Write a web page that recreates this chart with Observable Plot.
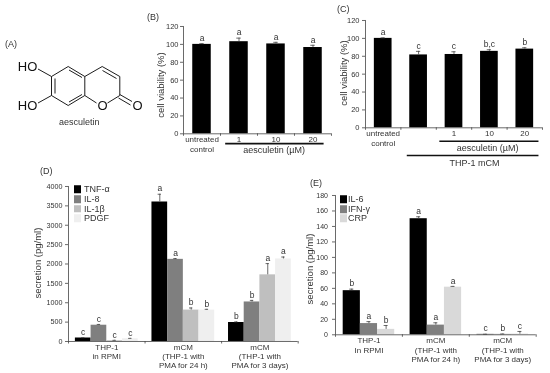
<!DOCTYPE html>
<html>
<head>
<meta charset="utf-8">
<script src="https://cdn.jsdelivr.net/npm/d3@7"></script>
<script src="https://cdn.jsdelivr.net/npm/@observablehq/plot@0.6"></script>
<style>
html,body{margin:0;padding:0;background:#fff}
#fig{position:relative;width:550px;height:373px;overflow:hidden;font-family:"Liberation Sans",Arial,sans-serif;color:#333;filter:blur(0.3px)}
#fig svg{position:absolute;background:transparent;overflow:hidden}
.t{position:absolute;font-size:9px;line-height:10px;white-space:nowrap;transform:translateY(-50%)}
.s{position:absolute;width:7px;height:7.5px;transform:translateY(-50%)}
</style>
</head>
<body>
<div id="fig"></div>
<script>
// ---- Panel B
const bLabels = ["untreated\ncontrol", "1", "10", "20"];
const bValues = [100, 103, 100.5, 96.5];
const bErrors = [0.8, 4, 1.8, 2.5];
const bLetters = ["a", "a", "a", "a"];
// ---- Panel C
const cLabels = ["untreated\ncontrol", "", "1", "10", "20"];
const cValues = [100, 81.5, 82, 85.5, 88];
const cErrors = [0.6, 4, 3, 1.8, 1.5];
const cLetters = ["a", "c", "c", "b,c", "b"];
// ---- Panel D
const dGroups = ["THP-1\nin RPMI", "mCM\n(THP-1 with\nPMA for 24 h)", "mCM\n(THP-1 with\nPMA for 3 days)"];
const dSeries = ["TNF-α", "IL-8", "IL-1β", "PDGF"];
const dColors = ["#000000", "#7f7f7f", "#bfbfbf", "#efefef"];
const dValues = [[90, 3600, 490], [420, 2120, 1020], [20, 810, 1720], [70, 810, 2130]];
const dErrors = [[8, 200, 15], [20, 20, 40], [10, 55, 290], [10, 20, 50]];
const dLetters = [["c", "a", "b"], ["c", "a", "b"], ["c", "b", "a"], ["c", "b", "a"]];
// ---- Panel E
const eGroups = ["THP-1\nIn RPMI", "mCM\n(THP-1 with\nPMA for 24 h)", "mCM\n(THP-1 with\nPMA for 3 days)"];
const eSeries = ["IL-6", "IFN-γ", "CRP"];
const eColors = ["#000000", "#7f7f7f", "#d9d9d9"];
const eValues = [[57, 150, 0.5], [14.5, 12.5, 0.5], [7, 61.5, 0.8]];
const eErrors = [[2, 2.5, 0.2], [2.5, 3, 0.5], [5, 1, 3.5]];
const eLetters = [["b", "a", "c"], ["a", "a", "b"], ["b", "a", "c"]];
// ---- Panel A: structure, in a 170 x 130 drawing space
const bonds = [
  [51,76,67.7,66],[67.7,66,84.3,76],[84.3,76,84.3,95],[84.3,95,67.7,105],[67.7,105,51,95],[51,95,51,76],
  [84.3,76,101.7,66],[101.7,66,119.3,76],[119.3,76,119.3,95],[119.3,95,107,102.5],[96,102.5,84.3,95],
  [37.5,68.5,51,76],[37.5,102.5,51,95],
  [68.5,69.5,81.5,77],[54.5,78,54.5,93],[68.5,101.5,81.5,94],[102,70,116,78],
  [119.3,94,131.5,101],[118,97.5,130,104.5]
];
const atoms = [["HO",27,66],["HO",27,105],["O",102,105],["O",137,105]];

const fig = document.getElementById("fig");
const FONT = "'Liberation Sans',Arial,sans-serif";
const INK = "#333";

function place(svg, left, top) {
  svg.style.left = left + "px";
  svg.style.top = top + "px";
  fig.appendChild(svg);
}
function note(text, x, y, size) {
  const d = document.createElement("div");
  d.className = "t";
  d.textContent = text;
  d.style.left = x + "px";
  d.style.top = y + "px";
  if (size) d.style.fontSize = size + "px";
  fig.appendChild(d);
}
function swatch(color, x, y) {
  const d = document.createElement("div");
  d.className = "s";
  d.style.left = x + "px";
  d.style.top = y + "px";
  d.style.background = color;
  fig.appendChild(d);
}

function panel(p) {
  const mL = 40, mT = 12, mR = 4, mB = p.marginBottom;
  const cx = d => (d.x1 + d.x2) / 2;
  const capW = p.cap;
  const plot = Plot.plot({
    width: p.x1 - p.x0 + mL + mR,
    height: p.y0 - p.yTop + mT + mB,
    marginLeft: mL, marginTop: mT, marginRight: mR, marginBottom: mB,
    style: {fontFamily: FONT, background: "transparent", color: INK},
    x: {domain: [0, p.nGroups], axis: null},
    y: {domain: [0, p.yMax], axis: null},
    marks: [
      Plot.rectY(p.rows, {x1: "x1", x2: "x2", y1: 0, y2: "v", fill: "fill"}),
      Plot.ruleX(p.rows, {x: cx, y1: "v", y2: d => d.v + d.e, stroke: "#444", strokeWidth: 0.8}),
      Plot.ruleY(p.rows, {y: d => d.v + d.e, x1: d => cx(d) - capW, x2: d => cx(d) + capW, stroke: "#444", strokeWidth: 0.8}),
      Plot.text(p.rows, {x: cx, y: d => d.v + d.e, text: "letter", dy: -5.5, fontSize: 8.5, fill: INK}),
      Plot.ruleX([0], {stroke: "#444", strokeWidth: 0.8}),
      Plot.ruleY([0], {stroke: "#444", strokeWidth: 0.8}),
      Plot.axisY({anchor: "left", ticks: d3.range(0, p.yMax + 1, p.yStep), tickSize: 3, tickPadding: p.tickPad,
        tickFormat: d => String(d), fontSize: p.tickFont, label: null, stroke: "#444", strokeWidth: 0.8, fill: INK}),
      Plot.axisX({anchor: "bottom", ticks: d3.range(0, p.nGroups + 1), tickSize: 2.5, tickFormat: () => "", label: null, stroke: "#444", strokeWidth: 0.8}),
      Plot.text(p.labels, {x: (d, i) => i + 0.5, y: 0, text: d => d, dy: p.labelDy, lineAnchor: "top", lineHeight: 1.15, fontSize: p.labelSize, fill: INK}),
      ...(p.extra || [])
    ]
  });
  place(plot, p.x0 - mL, p.yTop - mT);

  const lab = document.createElement("div");
  lab.className = "t";
  lab.textContent = p.yLabel;
  lab.style.fontSize = p.yLabelSize + "px";
  lab.style.left = p.yLabelX + "px";
  lab.style.top = p.yLabelY + "px";
  lab.style.transform = "translate(-50%,-50%) rotate(-90deg)";
  fig.appendChild(lab);
}

function singleRows(values, errors, letters) {
  return values.map((v, i) => ({x1: i + 0.25, x2: i + 0.75, v, e: errors[i], letter: letters[i], fill: "#000"}));
}
function groupedRows(values, errors, letters, colors, start, width) {
  return values.flatMap((vals, s) => vals.map((v, g) => ({
    x1: g + start + s * width, x2: g + start + (s + 1) * width,
    v, e: errors[s][g], letter: letters[s][g], fill: colors[s]
  })));
}
function underline(x1, x2, y) {
  return Plot.ruleY([y], {x1, x2, stroke: "#111", strokeWidth: 1.6});
}

// A
const bondRows = bonds.map(([a, b, c, d]) => ({a, b, c, d}));
const atomRows = atoms.map(([t, x, y]) => ({t, x, y}));
place(Plot.plot({
  width: 170, height: 130, margin: 0,
  style: {fontFamily: FONT, background: "transparent"},
  x: {domain: [0, 170], range: [0, 170], axis: null},
  y: {domain: [0, 130], range: [0, 130], axis: null},
  marks: [
    Plot.link(bondRows, {x1: "a", y1: "b", x2: "c", y2: "d", stroke: "#111", strokeWidth: 0.95}),
    Plot.text(atomRows, {x: "x", y: "y", text: "t", fontSize: 13, fill: "#111"})
  ]
}), 0, 0);
note("(A)", 5, 44);
note("aesculetin", 59, 122);

// B
note("(B)", 147, 17);
panel({
  x0: 183, x1: 331, y0: 133, yTop: 25.7, yMax: 120, yStep: 20, nGroups: 4, cap: 0.06,
  tickFont: 7.5, tickPad: 2,
  rows: singleRows(bValues, bErrors, bLetters), labels: bLabels, labelDy: 2, labelSize: 8, marginBottom: 30,
  yLabel: "cell viability (%)", yLabelSize: 9.5, yLabelX: 161, yLabelY: 85,
  extra: [
    underline(1.14, 3.8, -11),
    Plot.text(["aesculetin (µM)"], {x: 2.45, y: -18, text: d => d, fontSize: 9, fill: INK})
  ]
});

// C
note("(C)", 337, 9);
panel({
  x0: 365, x1: 542, y0: 127.3, yTop: 20, yMax: 120, yStep: 20, nGroups: 5, cap: 0.06,
  tickFont: 7.5, tickPad: 3,
  rows: singleRows(cValues, cErrors, cLetters), labels: cLabels, labelDy: 2, labelSize: 8, marginBottom: 42,
  yLabel: "cell viability (%)", yLabelSize: 9.5, yLabelX: 344, yLabelY: 73,
  extra: [
    underline(2.1, 4.9, -15),
    Plot.text(["aesculetin (µM)"], {x: 3.45, y: -23, text: d => d, fontSize: 9, fill: INK}),
    underline(1.18, 4.9, -31),
    Plot.text(["THP-1 mCM"], {x: 3.08, y: -39, text: d => d, fontSize: 9, fill: INK})
  ]
});

// D
note("(D)", 40, 171);
panel({
  x0: 68, x1: 297.7, y0: 341, yTop: 186, yMax: 4000, yStep: 500, nGroups: 3, cap: 0.022,
  tickFont: 7.2, tickPad: 3,
  rows: groupedRows(dValues, dErrors, dLetters, dColors, 0.09, 0.205), labels: dGroups, labelDy: 2, labelSize: 8, marginBottom: 32,
  yLabel: "secretion (pg/ml)", yLabelSize: 9.5, yLabelX: 38, yLabelY: 263
});
dSeries.forEach((s, i) => {
  const y = [189, 199, 208.5, 218][i];
  swatch(dColors[i], 74, y);
  note(s, 84, y);
});

// E
note("(E)", 310, 183);
panel({
  x0: 335, x1: 535.7, y0: 334.3, yTop: 195, yMax: 180, yStep: 20, nGroups: 3, cap: 0.03,
  tickFont: 7, tickPad: 4.5,
  rows: groupedRows(eValues, eErrors, eLetters, eColors, 0.115, 0.2567), labels: eGroups, labelDy: 2, labelSize: 8, marginBottom: 38,
  yLabel: "secretion (pg/ml)", yLabelSize: 9.5, yLabelX: 310, yLabelY: 269
});
eSeries.forEach((s, i) => {
  const y = [199, 209, 218][i];
  swatch(eColors[i], 340, y);
  note(s, 348, y);
});
</script>
</body>
</html>
